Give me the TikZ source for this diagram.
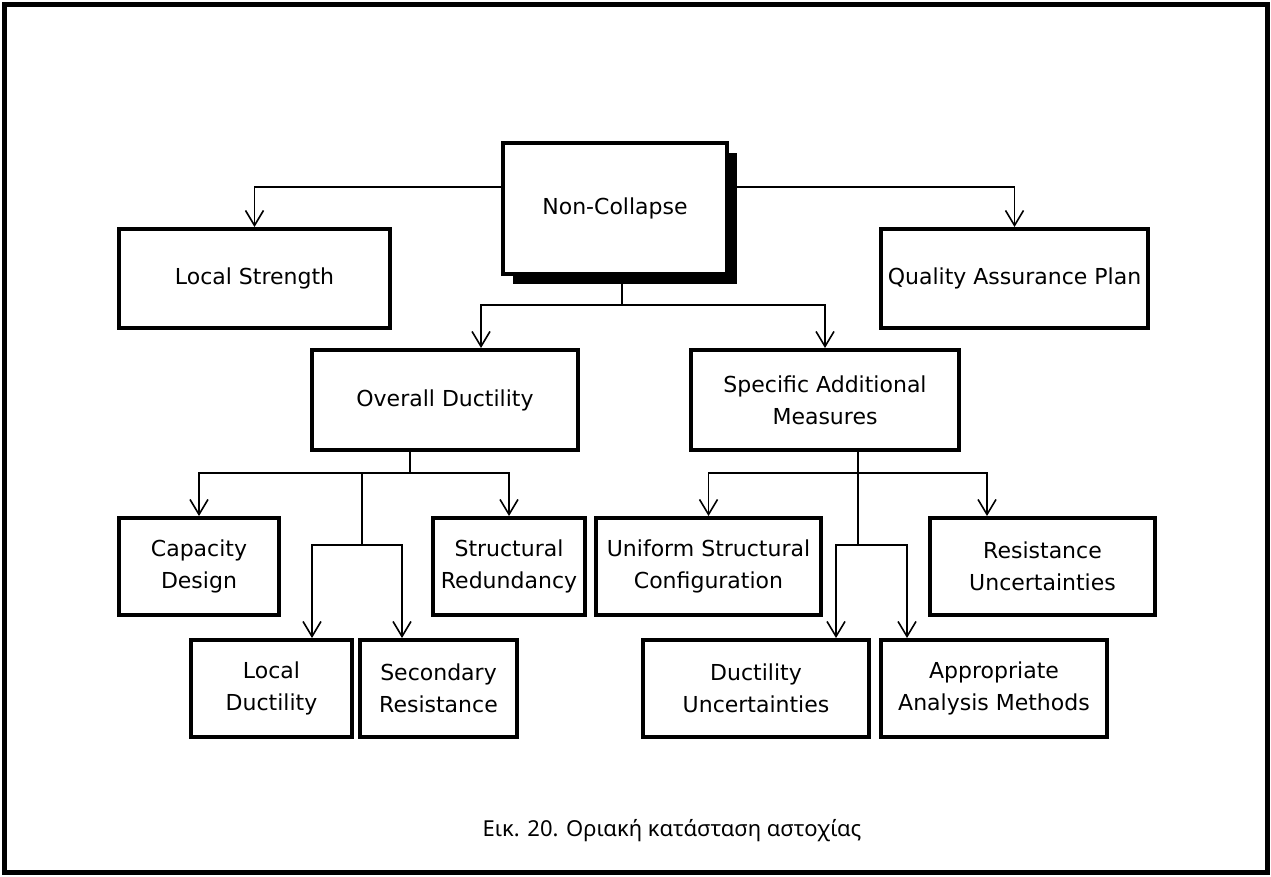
\documentclass[tikz,border=0pt]{standalone}
\usepackage{fontspec}
\setmainfont{DejaVu Sans}
\newfontfamily\captionfont{Noto Sans}
\usetikzlibrary{arrows.meta}
\begin{document}
\begin{tikzpicture}[x=1pt, y=-1pt,
  box/.style={draw=black, line width=4pt, fill=white, align=center, minimum height=97pt, inner sep=1pt, font=\fontsize{22}{32}\selectfont},
  link/.style={draw=black, line width=1.6pt},
  arr/.style={link, -{Straight Barb[length=15pt, width=18pt]}}]
\useasboundingbox (0,0) rectangle (1271,876);
\draw [line width=5pt] (4,4) rectangle (1267,872);
% top level
\fill [black] (513,153) rectangle (737,284);
\node (nc) at (615,208.5) [box, minimum width=224pt, minimum height=131pt] {Non-Collapse};
\node (ls) at (254.5,278.5) [box, minimum width=271pt, minimum height=99pt] {Local Strength};
\node (qa) at (1014.5,278.5) [box, minimum width=267pt, minimum height=99pt] {Quality Assurance Plan};
\node (od) at (445,400) [box, minimum width=266pt, minimum height=100pt] {Overall Ductility};
\node (sam) at (825,400) [box, minimum width=268pt, minimum height=100pt] {Specific Additional\\Measures};
% second level
\node (cd) at (199,566.5) [box, minimum width=160pt] {Capacity\\Design};
\node (sr) at (509,566.5) [box, minimum width=152pt] {Structural\\Redundancy};
\node (ld) at (271.5,688.5) [box, minimum width=161pt] {Local\\Ductility};
\node (sres) at (438.5,688.5) [box, minimum width=157pt] {Secondary\\Resistance};
\node (usc) at (708.5,566.5) [box, minimum width=225pt] {Uniform Structural\\Configuration};
\node (ru) at (1042.5,566.5) [box, minimum width=225pt] {Resistance\\Uncertainties};
\node (du) at (756,688.5) [box, minimum width=226pt] {Ductility\\Uncertainties};
\node (aam) at (994,688.5) [box, minimum width=226pt] {Appropriate\\Analysis Methods};
% connectors
\draw [arr] ([yshift=21.5pt]nc.west) -| (ls.north);
\draw [arr] ([yshift=21.5pt]nc.east) -| (qa.north);
\coordinate (ncfork) at (622,305);
\draw [link] (ncfork |- nc.south) -- (ncfork);
\draw [arr] (ncfork) -| ([xshift=36pt]od.north);
\draw [arr] (ncfork) -| (sam.north);
\coordinate (odfork) at (410,473);
\coordinate (odmid) at (362,545);
\draw [link] (odfork |- od.south) -- (odfork);
\draw [arr] (odfork) -| (cd.north);
\draw [arr] (odfork) -| (sr.north);
\draw [link] (odfork -| odmid) -- (odmid);
\draw [arr] (odmid) -| ([xshift=40.5pt]ld.north);
\draw [arr] (odmid) -| ([xshift=-36.5pt]sres.north);
\coordinate (samfork) at (858,473);
\coordinate (sammid) at (858,545);
\draw [link] (samfork |- sam.south) -- (sammid);
\draw [arr] (samfork) -| (usc.north);
\draw [arr] (samfork) -| ([xshift=-55.5pt]ru.north);
\draw [arr] (sammid) -| ([xshift=80pt]du.north);
\draw [arr] (sammid) -| ([xshift=-87pt]aam.north);
% caption
\node (caption) at (672,831) [font=\captionfont\fontsize{22}{26}\selectfont] {Εικ. 20. Οριακή κατάσταση αστοχίας};
\end{tikzpicture}
\end{document}
